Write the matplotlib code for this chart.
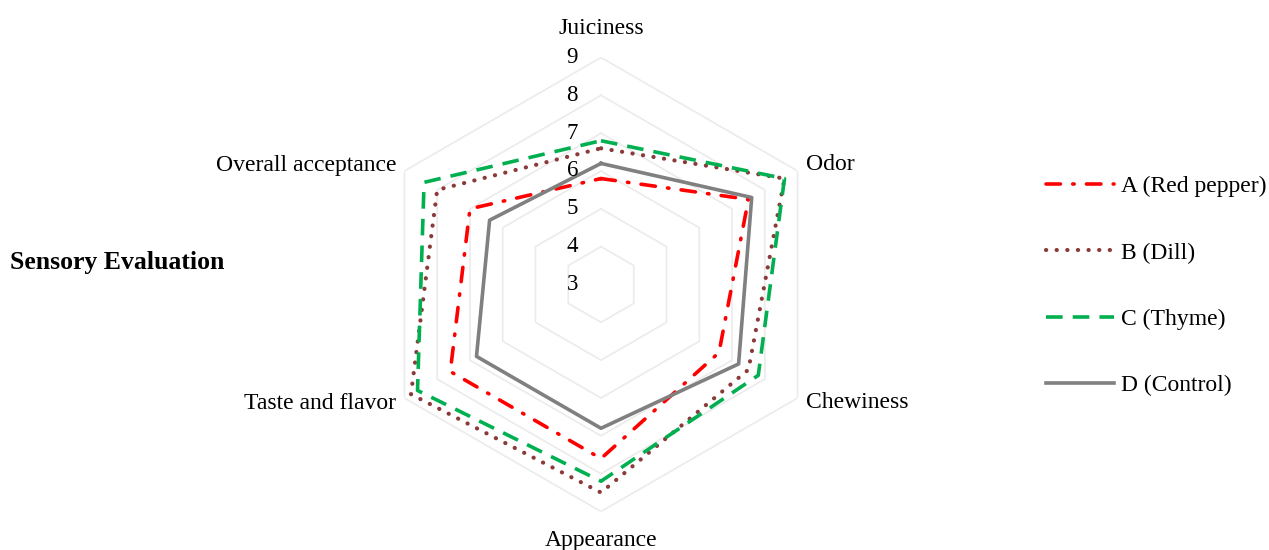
import numpy as np
import matplotlib
matplotlib.use("Agg")
import matplotlib.pyplot as plt
import matplotlib.transforms as mtrans
from matplotlib.lines import Line2D

categories = ["Juiciness", "Odor", "Chewiness", "Appearance", "Taste and flavor", "Overall acceptance"]
series_names = ["A (Red pepper)", "B (Dill)", "C (Thyme)", "D (Control)"]
a_red_pepper = [5.8, 7.5, 6.6, 7.6, 7.6, 7.0]
b_dill = [6.6, 8.6, 7.5, 8.5, 8.8, 8.0]
c_thyme = [6.8, 8.6, 7.8, 8.2, 8.6, 8.4]
d_control = [6.2, 7.6, 7.2, 6.8, 6.8, 6.4]
r_ticks = [3, 4, 5, 6, 7, 8, 9]

plt.rcParams['font.family'] = ['Liberation Serif', 'DejaVu Serif']
FS = 17

fig = plt.figure(figsize=(12.69, 5.5), dpi=100)
cx, cy, R = 601 / 1269, (550 - 284.5) / 550, 227
ax = fig.add_axes([cx - R / 1269, cy - R / 550, 2 * R / 1269, 2 * R / 550], projection='polar')
ax.set_theta_offset(np.pi / 2)
ax.set_theta_direction(-1)
ax.set_ylim(3, 9)
ax.grid(False)
ax.spines['polar'].set_visible(False)
ax.set_xticks([])
ax.set_yticks([])

n = len(categories)
theta = np.linspace(0, 2 * np.pi, n, endpoint=False)
theta_c = np.append(theta, theta[0])

# hexagonal gridlines
for v in r_ticks[1:]:
    ax.plot(theta_c, [v] * (n + 1), color='#EBEBEB', lw=1.2, zorder=1)

def close(vals):
    return list(vals) + [vals[0]]

styles = [
    (a_red_pepper, dict(color='#FF0000', lw=2.6, linestyle=(0, (4.0, 3.4, 0.4, 3.4)), dash_capstyle='round')),
    (b_dill, dict(color='#8B3A3A', lw=3.0, linestyle=(0, (0.05, 2.5)), dash_capstyle='round')),
    (c_thyme, dict(color='#00B050', lw=2.6, linestyle=(0, (4.6, 2.8)))),
    (d_control, dict(color='#808080', lw=2.6, linestyle='-')),
]
handles = []
for (vals, st), name in zip(styles, series_names):
    ax.plot(theta_c, close(vals), zorder=3, **st)
    handles.append(Line2D([0], [0], **st))

# radial tick labels
off = mtrans.offset_copy(ax.transData, fig=fig, x=-23, y=0, units='dots')
for v in r_ticks:
    ax.text(0, v, str(v), transform=off, ha='right', va='center', fontsize=16.5)

# category labels
def lab(i, text, dx, dy, ha, va):
    t = mtrans.offset_copy(ax.transData, fig=fig, x=dx, y=dy, units='dots')
    ax.text(theta[i], 9, text, transform=t, ha=ha, va=va, fontsize=FS)

lab(0, categories[0], 0, 29, 'center', 'center')
lab(1, categories[1], 8, 6, 'left', 'center')
lab(2, categories[2], 8, -5, 'left', 'center')
lab(3, categories[3], 0, -29, 'center', 'center')
lab(4, categories[4], -8, -5, 'right', 'center')
lab(5, categories[5], -8, 6, 'right', 'center')

fig.text(10 / 1269, 1 - 262 / 550, "Sensory Evaluation", fontsize=18.5, fontweight='bold',
         ha='left', va='center')

fs_px = FS * 100 / 72
fig.legend(handles, series_names, loc='center left', bbox_to_anchor=(1037 / 1269, 1 - 286 / 550),
           frameon=False, fontsize=FS, handlelength=68 / fs_px, handletextpad=7 / fs_px,
           labelspacing=(68.3 - fs_px) / fs_px, borderaxespad=0)

fig.savefig("out.png", dpi=100)
